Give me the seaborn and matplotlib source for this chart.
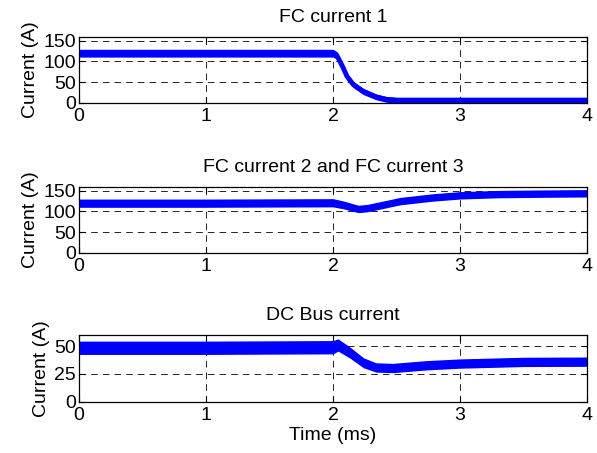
import matplotlib
matplotlib.use("Agg")

import matplotlib.pyplot as plt
import seaborn as sns
import pandas as pd
import numpy as np

# --- data (time in ms, current in A) ---
t_fc1 = [0, 1, 2.0, 2.03, 2.08, 2.11, 2.16, 2.24, 2.34, 2.42, 2.5, 3, 4]
i_fc1 = [120, 120, 120, 115, 85, 64, 44, 27, 14, 8, 6, 6, 6]
r_fc1 = [9.5, 9.5, 9.5, 9, 8, 8, 7.5, 7.5, 7, 7, 7, 7, 7]

t_fc2 = [0, 1, 2.0, 2.08, 2.2, 2.27, 2.53, 2.79, 3.0, 3.3, 3.6, 4]
i_fc2 = [120, 120, 121, 116, 106, 108, 125, 134, 139, 142, 143, 144]
r_fc2 = [10, 10, 10, 9.5, 9, 9, 9, 9, 9, 9, 9, 9]

t_bus = [0, 1, 2.0, 2.04, 2.13, 2.24, 2.34, 2.47, 2.74, 3.0, 3.5, 4]
i_bus = [48.5, 48.5, 49, 51, 44.5, 35, 30.8, 30.3, 32.8, 34.3, 35.8, 36]
r_bus = [6, 6, 6, 5.5, 5, 4.5, 4.2, 4.2, 4.2, 4.2, 4.2, 4.2]

titles = ["FC current 1", "FC current 2 and FC current 3", "DC Bus current"]
y_limits = [(0, 160), (0, 160), (0, 60)]
y_ticks = [[0, 50, 100, 150], [0, 50, 100, 150], [0, 25, 50]]
x_ticks = [0, 1, 2, 3, 4]

BLUE = "#0000FF"

sns.set_theme(style="ticks")
plt.rcParams.update({
    "font.family": ["Liberation Sans", "DejaVu Sans"],
    "font.size": 14,
    "axes.edgecolor": "black",
    "axes.linewidth": 0.9,
    "xtick.direction": "in",
    "ytick.direction": "in",
    "xtick.color": "black",
    "ytick.color": "black",
    "text.color": "black",
    "axes.labelcolor": "black",
})

fig = plt.figure(figsize=(5.97, 4.53), dpi=100)
fig.patch.set_facecolor("white")

boxes = [
    [0.1323, 0.7733, 0.8509, 0.1457],
    [0.1323, 0.4422, 0.8509, 0.1457],
    [0.1323, 0.1132, 0.8509, 0.1473],
]

series = [(t_fc1, i_fc1, r_fc1), (t_fc2, i_fc2, r_fc2), (t_bus, i_bus, r_bus)]

for k, (box, (t, i, r)) in enumerate(zip(boxes, series)):
    ax = fig.add_axes(box)
    df = pd.DataFrame({"t": t, "i": i, "r": r})
    ax.fill_between(df["t"], df["i"] - df["r"], df["i"] + df["r"],
                    color=BLUE, linewidth=0, zorder=3)
    sns.lineplot(data=df, x="t", y="i", color=BLUE, linewidth=3.5,
                 ax=ax, zorder=3)

    ax.set_xlim(0, 4)
    ax.set_ylim(*y_limits[k])
    ax.set_xticks(x_ticks)
    ax.set_yticks(y_ticks[k])
    ax.tick_params(axis="both", labelsize=14, length=4, width=0.8,
                   top=True, right=True, pad=4)
    ax.tick_params(axis="y", pad=2)
    ax.grid(True, color="black", linestyle=(0, (8, 6)), linewidth=0.6)
    for s in ax.spines.values():
        s.set_visible(True)
        s.set_zorder(4)
    ax.set_title(titles[k], fontsize=14, pad=10.5)
    ax.set_ylabel("Current (A)", fontsize=14, labelpad=3)
    ax.set_xlabel("")

ax.set_xlabel("Time (ms)", fontsize=14, labelpad=2)

fig.savefig("out.png", dpi=100, facecolor="white")
plt.close(fig)
